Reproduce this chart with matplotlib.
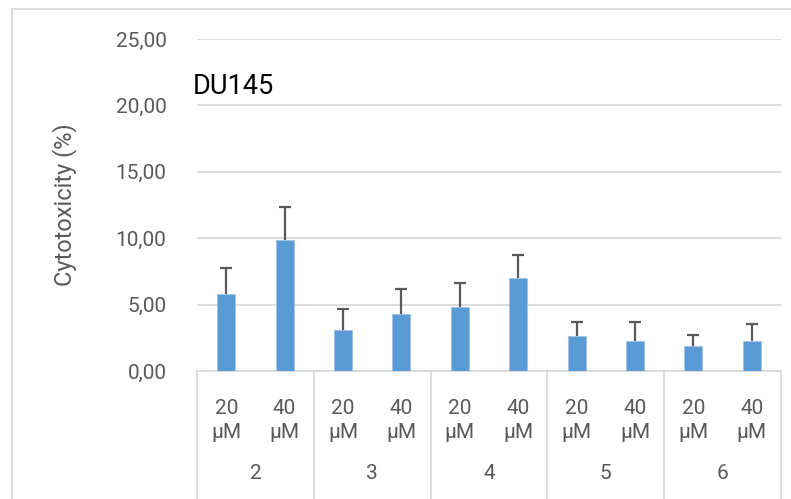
import matplotlib
matplotlib.use("Agg")
import matplotlib.pyplot as plt
from matplotlib.lines import Line2D
import numpy as np

plt.rcParams['font.family'] = ['Roboto', 'DejaVu Sans']

compounds = ["2", "3", "4", "5", "6"]
doses = ["20\nμM", "40\nμM"]
values = [5.78, 9.84, 3.06, 4.32, 4.79, 6.98, 2.61, 2.26, 1.86, 2.24]
errors = [1.95, 2.51, 1.60, 1.83, 1.84, 1.75, 1.06, 1.45, 0.87, 1.32]
yticks = [0, 5, 10, 15, 20, 25]
ytick_labels = ["0,00", "5,00", "10,00", "15,00", "20,00", "25,00"]
title = "DU145"
ylabel = "Cytotoxicity (%)"

W, H = 791, 499
fig = plt.figure(figsize=(W / 100, H / 100), dpi=100)
ax = fig.add_axes([197 / W, 128 / H, (781 - 197) / W, (460 - 128) / H])

x = np.arange(len(values)) + 0.5
ax.bar(x, values, width=0.31, color="#5B9BD5", edgecolor="#9DC3E6", linewidth=0.6, zorder=3)
eb = ax.errorbar(x, values, yerr=[np.zeros(len(errors)), errors], fmt="none",
                 ecolor="#595959", elinewidth=1.6, capsize=4, capthick=1.6, zorder=4)
caplines = eb.lines[1]
if len(caplines) >= 2:
    caplines[0].set_visible(False)

ax.set_xlim(0, len(values))
ax.set_ylim(0, 25)
ax.set_yticks(yticks)
ax.set_yticklabels(ytick_labels, color="#595959", fontsize=15)
ax.tick_params(axis="y", length=0, pad=22)
ax.tick_params(axis="x", length=0, labelbottom=False)
ax.grid(axis="y", color="#D9D9D9", linewidth=1.3, zorder=0)
for s in ["top", "right", "left"]:
    ax.spines[s].set_visible(False)
ax.spines["bottom"].set_color("#D9D9D9")
ax.spines["bottom"].set_linewidth(1.3)

trans = ax.get_xaxis_transform()
for i, xi in enumerate(x):
    ax.text(xi, -0.085, doses[i % 2], transform=trans, ha="center", va="top",
            fontsize=15, color="#595959", linespacing=1.35, clip_on=False)
for g, name in enumerate(compounds):
    ax.text(2 * g + 1, -0.31, name, transform=trans, ha="center", va="center",
            fontsize=15, color="#595959", clip_on=False)
for b in range(0, len(values) + 1, 2):
    ax.plot([b, b], [0, -0.4], transform=trans, color="#D9D9D9", lw=1.3, clip_on=False)

fig.text(193 / W, 1 - 86 / H, title, fontsize=19.5, color="black", ha="left", va="center")
fig.text(65 / W, 1 - 205 / H, ylabel, fontsize=17, color="#595959", rotation=90,
         ha="center", va="center")

fig.add_artist(Line2D([12 / W, 12 / W], [0, 1 - 9 / H], transform=fig.transFigure, color="#D9D9D9", lw=1.3))
fig.add_artist(Line2D([12 / W, 1], [1 - 9 / H, 1 - 9 / H], transform=fig.transFigure, color="#D9D9D9", lw=1.3))

fig.savefig("out.png", dpi=100)
